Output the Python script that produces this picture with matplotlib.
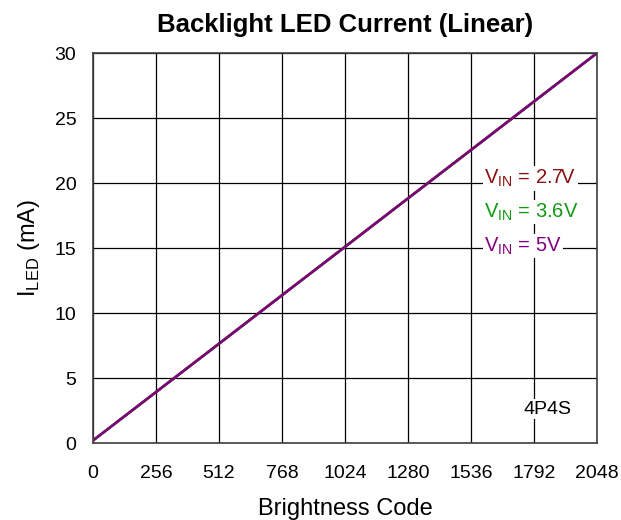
import matplotlib
matplotlib.use("Agg")
import matplotlib.pyplot as plt

plt.rcParams['font.family'] = ['Liberation Sans', 'DejaVu Sans']
plt.rcParams['mathtext.fontset'] = 'custom'
plt.rcParams['mathtext.rm'] = 'Liberation Sans'

codes = [0, 256, 512, 768, 1024, 1280, 1536, 1792, 2048]
i_27 = [0.2, 3.93, 7.65, 11.38, 15.1, 18.83, 22.55, 26.28, 30.0]
i_36 = [0.2, 3.92, 7.64, 11.37, 15.09, 18.82, 22.54, 26.27, 30.0]
i_50 = [0.2, 3.92, 7.64, 11.37, 15.09, 18.82, 22.54, 26.27, 30.0]
xticks = [0, 256, 512, 768, 1024, 1280, 1536, 1792, 2048]
yticks = [0, 5, 10, 15, 20, 25, 30]

fig = plt.figure(figsize=(6.21, 5.2), dpi=100)
ax = fig.add_axes([0.1498, 0.148, 0.8116, 0.75])

ax.plot(codes, i_27, color='#8B1010', lw=1.8)
ax.plot(codes, i_36, color='#119911', lw=1.8)
ax.plot(codes, i_50, color='#800080', lw=1.8)

ax.set_xlim(0, 2048)
ax.set_ylim(0, 30)
ax.set_xticks(xticks)
ax.set_yticks(yticks)
ax.grid(True, color='black', lw=0.9)
ax.set_axisbelow(True)
for s in ax.spines.values():
    s.set_color('#404040')
    s.set_linewidth(1.2)
ax.tick_params(axis='both', length=0, labelsize=14)
ax.tick_params(axis='x', pad=16)
ax.tick_params(axis='y', pad=12)

ax.set_title('Backlight LED Current (Linear)', fontsize=18.5, fontweight='bold', pad=15)
ax.set_xlabel('Brightness Code', fontsize=17, labelpad=11)
ax.set_ylabel(r'I$_{\mathregular{LED}}$ (mA)', fontsize=17, labelpad=9)

bbox = dict(facecolor='white', edgecolor='none', pad=1)
ax.text(1590, 20.35, r'V$_{\mathregular{IN}}$ = 2.7V', color='#8B1010', fontsize=14.5, bbox=bbox, va='center')
ax.text(1590, 17.75, r'V$_{\mathregular{IN}}$ = 3.6V', color='#119911', fontsize=14.5, bbox=bbox, va='center')
ax.text(1590, 15.15, r'V$_{\mathregular{IN}}$ = 5V', color='#800080', fontsize=14.5, bbox=bbox, va='center')
ax.text(1845, 2.6, '4P4S', color='black', fontsize=14, bbox=bbox, va='center', ha='center')

fig.savefig('out.png', dpi=100)
